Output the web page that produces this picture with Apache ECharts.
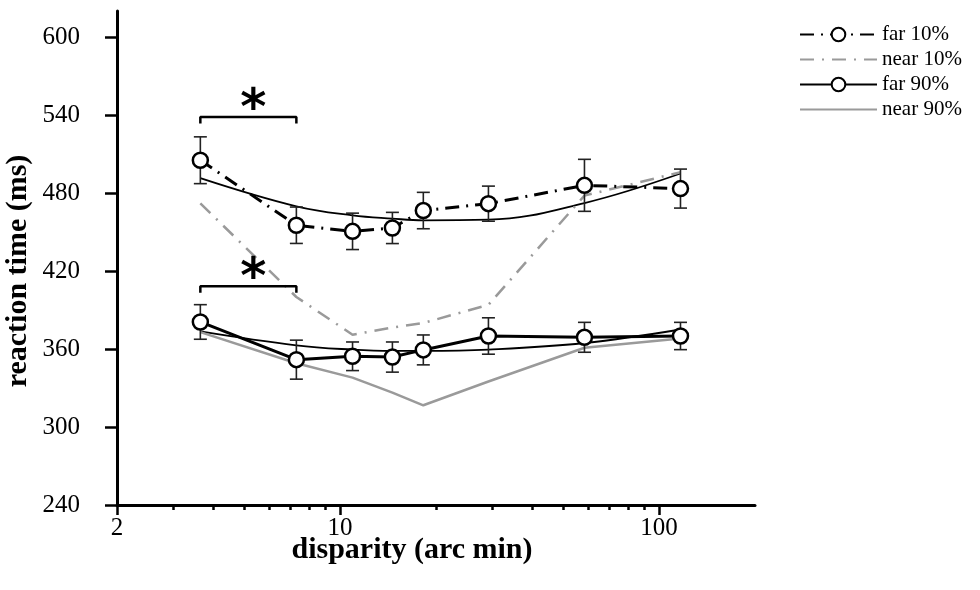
<!DOCTYPE html>
<html><head><meta charset="utf-8">
<script src="https://cdn.jsdelivr.net/npm/echarts@6/dist/echarts.min.js"></script>
<style>html,body{margin:0;padding:0;background:#fff}#c{width:980px;height:590px}</style>
</head><body><div id="c"></div>
<script>
// disparity (arc min)
const disparity = [3.65, 7.3, 10.95, 14.6, 18.25, 29.2, 58.4, 116.8];
// reaction time (ms)
const far10    = [505.2, 455.2, 450.5, 453.1, 466.5, 471.8, 485.9, 483.4];
const far10Err = [18, 14, 14, 12, 14, 13.5, 20, 15];
const near10   = [472, 400, 371, 376.5, 380, 394, 478, 496];
const far90    = [380.8, 351.8, 354.4, 353.8, 359.3, 370, 369, 370];
const far90Err = [13.3, 15, 11, 11.6, 11.5, 14, 11.5, 10.5];
const near90   = [373, 349, 338, 326.5, 316.7, 335, 361, 368];
// fitted curves (read at the same disparities)
const far10Fit = [491.5, 469.8, 462.8, 460.3, 459, 459.5, 472.3, 495];
const far90Fit = [373.5, 362.8, 359.5, 358.5, 358.5, 359.5, 364.6, 375];
// significance brackets
const sigFrom  = [3.65, 3.65];
const sigTo    = [7.3, 7.3];
const sigLevel = [538.5, 408.2];
const sigDrop  = 5;
// ticks
const yTicks = [240, 300, 360, 420, 480, 540, 600];
const xMajorTicks = [2, 10, 100];
const xMinorTicks = [3, 4, 5, 6, 7, 8, 9, 20, 30, 40, 50, 60, 70, 80, 90];
const seriesNames = ['far 10%', 'near 10%', 'far 90%', 'near 90%'];

const FONT = 'Liberation Serif';
const GRAY = '#9a9a9a';
const pts = arr => disparity.map((d, i) => [d, arr[i]]);

const chart = echarts.init(document.getElementById('c'), null, {renderer: 'canvas'});

const errData = [];
disparity.forEach((d, i) => { errData.push([d, far10[i] - far10Err[i], far10[i] + far10Err[i]]); });
disparity.forEach((d, i) => { errData.push([d, far90[i] - far90Err[i], far90[i] + far90Err[i]]); });

const bracketSeries = sigFrom.map((f, k) => ({
  type: 'line', xAxisIndex: 0, silent: true, symbol: 'none', z: 6,
  lineStyle: {color: '#000', width: 2.5},
  data: [[f, sigLevel[k] - sigDrop], [f, sigLevel[k]], [sigTo[k], sigLevel[k]], [sigTo[k], sigLevel[k] - sigDrop]]
}));

const markerStyle = {color: '#fff', borderColor: '#000', borderWidth: 2.5};

const option = {
  animation: false,
  grid: {left: 117, right: 225, top: 11, bottom: 85, outerBoundsMode: 'none', containLabel: false},
  legend: {
    orient: 'vertical', left: 794, top: 19,
    itemWidth: 77, itemHeight: 17, itemGap: 4,
    data: seriesNames.map(n => n.startsWith('near')
      ? {name: n, itemStyle: {opacity: 0}}
      : {name: n}),
    textStyle: {fontFamily: FONT, fontSize: 21, color: '#000', lineHeight: 17},
    selectedMode: false
  },
  xAxis: [{
    type: 'log', logBase: 10, min: 2, max: 200,
    name: 'disparity (arc min)', nameLocation: 'middle', nameGap: 30, nameMoveOverlap: false,
    nameTextStyle: {fontFamily: FONT, fontSize: 30, fontWeight: 'bold', color: '#000', padding: [0, 48, 0, 0]},
    axisLine: {show: true, lineStyle: {color: '#000', width: 3}},
    axisTick: {show: true, customValues: xMajorTicks, length: 10, lineStyle: {color: '#000', width: 2.5}},
    axisLabel: {customValues: xMajorTicks, margin: 11, fontFamily: FONT, fontSize: 25, color: '#000',
      formatter: v => String(Math.round(v))},
    splitLine: {show: false}, minorTick: {show: false}
  }, {
    type: 'log', logBase: 10, min: 2, max: 200, position: 'bottom',
    axisLine: {show: false},
    axisTick: {show: true, customValues: xMinorTicks, length: 5, lineStyle: {color: '#000', width: 2.5}},
    axisLabel: {show: false},
    splitLine: {show: false}
  }],
  yAxis: {
    type: 'value', min: 240, max: 620,
    name: 'reaction time (ms)', nameLocation: 'middle', nameGap: 84, nameMoveOverlap: false,
    nameTextStyle: {fontFamily: FONT, fontSize: 30, fontWeight: 'bold', color: '#000', padding: [0, 26, 0, 0]},
    axisLine: {show: true, lineStyle: {color: '#000', width: 3}},
    axisTick: {show: true, customValues: yTicks, length: 12, lineStyle: {color: '#000', width: 2.5}},
    axisLabel: {customValues: yTicks, margin: 37, fontFamily: FONT, fontSize: 25, color: '#000'},
    splitLine: {show: false}
  },
  series: [
    {type: 'line', name: 'far 10% fit', smooth: 0.4, symbol: 'none', silent: true, z: 2,
      lineStyle: {color: '#000', width: 1.8}, data: pts(far10Fit)},
    {type: 'line', name: 'far 90% fit', smooth: 0.4, symbol: 'none', silent: true, z: 2,
      lineStyle: {color: '#000', width: 1.8}, data: pts(far90Fit)},
    {type: 'line', name: 'near 10%', symbol: 'none', silent: true, z: 3,
      itemStyle: {color: GRAY},
      lineStyle: {color: GRAY, width: 2.5, type: [14, 8, 2, 8]}, data: pts(near10)},
    {type: 'line', name: 'near 90%', symbol: 'none', silent: true, z: 3,
      itemStyle: {color: GRAY},
      lineStyle: {color: GRAY, width: 2.5}, data: pts(near90)},
    {type: 'custom', name: 'err', silent: true, z: 4,
      renderItem: (params, api) => {
        const x = api.value(0);
        const lo = api.coord([x, api.value(1)]);
        const hi = api.coord([x, api.value(2)]);
        const w = 6.5;
        const st = {stroke: '#222', lineWidth: 1.6};
        return {type: 'group', children: [
          {type: 'line', shape: {x1: lo[0], y1: lo[1], x2: hi[0], y2: hi[1]}, style: st},
          {type: 'line', shape: {x1: lo[0] - w, y1: lo[1], x2: lo[0] + w, y2: lo[1]}, style: st},
          {type: 'line', shape: {x1: hi[0] - w, y1: hi[1], x2: hi[0] + w, y2: hi[1]}, style: st}
        ]};
      },
      encode: {x: 0, y: [1, 2]},
      data: errData},
    {type: 'line', name: 'far 10%', symbol: 'circle', symbolSize: 15, silent: true, z: 5,
      itemStyle: markerStyle,
      lineStyle: {color: '#000', width: 3, type: [14, 7, 2, 7]}, data: pts(far10)},
    {type: 'line', name: 'far 90%', symbol: 'circle', symbolSize: 15, silent: true, z: 5,
      itemStyle: markerStyle,
      lineStyle: {color: '#000', width: 3}, data: pts(far90)},
    ...bracketSeries,
    {type: 'custom', name: 'stars', silent: true, z: 7,
      renderItem: (params, api) => {
        const c = api.coord([api.value(0), api.value(1)]);
        return {type: 'text', style: {text: '*', x: c[0] + 5, y: c[1] - 6, align: 'center', verticalAlign: 'middle',
          fontFamily: 'DejaVu Sans', fontWeight: 'bold', fontSize: 50, fill: '#000'}};
      },
      data: sigFrom.map((f, k) => [Math.sqrt(f * sigTo[k]), sigLevel[k]])}
  ]
};
chart.setOption(option);
</script>
</body></html>
